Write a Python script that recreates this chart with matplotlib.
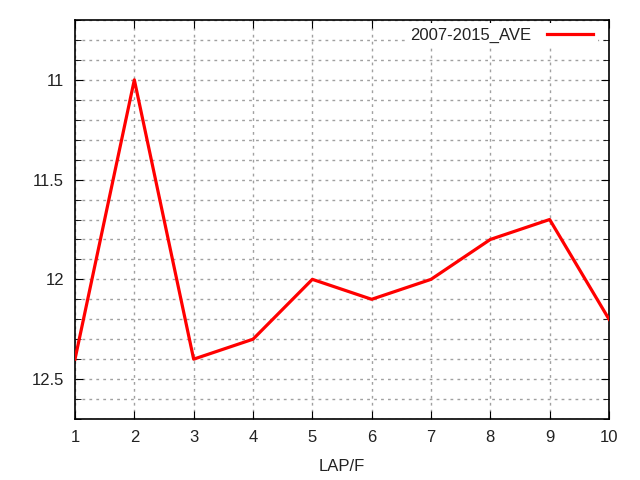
import matplotlib
matplotlib.use('Agg')
import matplotlib.pyplot as plt
from matplotlib.ticker import MultipleLocator

# Average lap value per frame
laps = [1, 2, 3, 4, 5, 6, 7, 8, 9, 10]
ave_2007_2015 = [12.4, 11.0, 12.4, 12.3, 12.0, 12.1, 12.0, 11.8, 11.7, 12.2]
series_label = '2007-2015_AVE'
x_label = 'LAP/F'

plt.rcParams['font.family'] = ['Liberation Sans', 'DejaVu Sans']
plt.rcParams['font.size'] = 12

fig = plt.figure(figsize=(6.4, 4.8), dpi=100)
ax = fig.add_axes([75 / 640, 61 / 480, 534 / 640, 399 / 480])

ax.plot(laps, ave_2007_2015, color='#ff0000', linewidth=2.3, label=series_label,
        zorder=3)

ax.set_xlim(1, 10)
ax.set_ylim(12.7, 10.7)
ax.xaxis.set_major_locator(MultipleLocator(1))
ax.yaxis.set_major_locator(MultipleLocator(0.5))
ax.yaxis.set_minor_locator(MultipleLocator(0.1))
ax.yaxis.set_major_formatter(plt.FuncFormatter(lambda v, p: f'{v:g}'))

ax.grid(True, which='both', color='#a0a0a0', linestyle=(0, (2, 3)), linewidth=1)
ax.tick_params(which='both', direction='in', top=True, right=True, colors='black',
               labelcolor='#222222')
ax.tick_params(which='major', length=6, pad=8)
ax.tick_params(which='minor', length=4)
for s in ax.spines.values():
    s.set_linewidth(1.2)

ax.set_xlabel(x_label, color='#222222', labelpad=10)

# legend sits just inside the top right corner, key on the right
leg = ax.legend(loc='upper right', bbox_to_anchor=(0.98, 0.992), markerfirst=False,
                frameon=True, fancybox=False, edgecolor='none', facecolor='white',
                framealpha=1, handlelength=2.8, handletextpad=0.9,
                borderpad=0.3, borderaxespad=0)
for t in leg.get_texts():
    t.set_color('#222222')

fig.savefig('out.png', dpi=100)
